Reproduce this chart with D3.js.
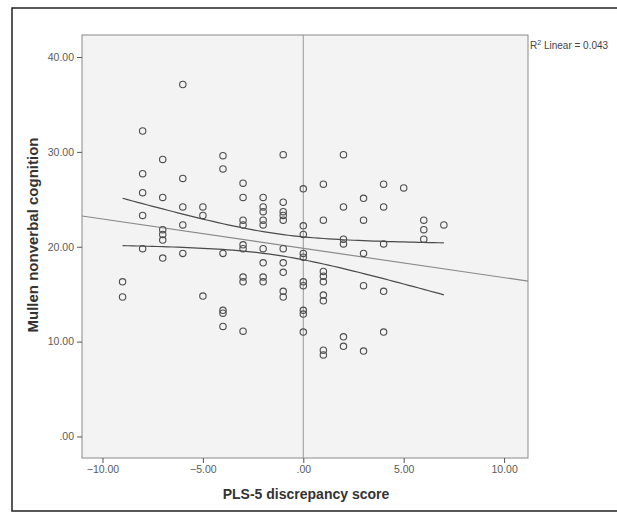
<!DOCTYPE html>
<html>
<head>
<meta charset="utf-8">
<script src="https://cdn.jsdelivr.net/npm/d3@7"></script>
<style>
  body { margin: 0; background: #fff; }
  svg { font-family: "Liberation Sans", Arial, sans-serif; }
  .tick text { fill: #5a5a5a; font-size: 10.5px; }
  .tick line { stroke: #555; }
</style>
</head>
<body>
<div id="chart"></div>
<script>
// PLS-5 discrepancy score (x) grouped by column, Mullen nonverbal cognition (y)
var xCols = [-9, -8, -7, -6, -5, -4, -3, -2, -1, 0, 1, 2, 3, 4, 5, 6, 7];
var yCols = [
    [16.3, 14.7],
    [32.2, 27.7, 25.7, 23.3, 19.8],
    [29.2, 25.2, 21.8, 21.3, 20.7, 18.8],
    [37.1, 27.2, 24.2, 22.3, 19.3],
    [24.2, 23.3, 14.8],
    [29.6, 28.2, 19.3, 13.3, 13.0, 11.6],
    [26.7, 25.2, 22.8, 22.3, 20.2, 19.8, 16.8, 16.3, 11.1],
    [25.2, 24.2, 23.7, 22.8, 22.3, 19.8, 18.3, 16.8, 16.3],
    [29.7, 24.7, 23.7, 23.3, 22.8, 19.8, 18.3, 17.3, 15.3, 14.7],
    [26.1, 22.2, 21.3, 19.3, 18.9, 16.3, 15.9, 13.3, 12.9, 11.0],
    [26.6, 22.8, 17.4, 16.9, 16.3, 14.9, 14.3, 9.1, 8.6],
    [29.7, 24.2, 20.8, 20.3, 10.5, 9.5],
    [25.1, 22.8, 19.3, 15.9, 9.0],
    [26.6, 24.2, 20.3, 15.3, 11.0],
    [26.2],
    [22.8, 21.8, 20.8],
    [22.3]
];
var xTicks = [-10, -5, 0, 5, 10];
var yTicks = [0, 10, 20, 30, 40];
var r2Label = "0.043";

var points = [];
xCols.forEach(function(x, i) {
    yCols[i].forEach(function(y) { points.push({x: x, y: y}); });
});

// linear fit + 95% mean CI
var n = points.length;
var xbar = d3.mean(points, function(d) { return d.x; });
var ybar = d3.mean(points, function(d) { return d.y; });
var sxx = d3.sum(points, function(d) { return (d.x - xbar) * (d.x - xbar); });
var sxy = d3.sum(points, function(d) { return (d.x - xbar) * (d.y - ybar); });
var slope = sxy / sxx;
var intercept = ybar - slope * xbar;
var sse = d3.sum(points, function(d) { var e = d.y - (intercept + slope * d.x); return e * e; });
var s = Math.sqrt(sse / (n - 2));
var t = 1.986;
function fit(x) { return intercept + slope * x; }
function half(x) { return t * s * Math.sqrt(1 / n + (x - xbar) * (x - xbar) / sxx); }

var width = 617, height = 522;
var plot = {left: 82, right: 528, top: 35, bottom: 458};

var svg = d3.select("#chart").append("svg")
    .attr("width", width)
    .attr("height", height);

// outer frame (open on the right, where the page is cut)
svg.append("path")
    .attr("d", "M617,8H12V511H617")
    .attr("fill", "none")
    .attr("stroke", "#222")
    .attr("stroke-width", 1.5);

var x = d3.scaleLinear()
    .domain([-11.02, 11.19])
    .range([plot.left, plot.right]);
var y = d3.scaleLinear()
    .domain([-2.27, 42.32])
    .range([plot.bottom, plot.top]);

svg.append("rect")
    .attr("x", plot.left).attr("y", plot.top)
    .attr("width", plot.right - plot.left)
    .attr("height", plot.bottom - plot.top)
    .attr("fill", "#f3f3f3")
    .attr("stroke", "#8a8a8a")
    .attr("stroke-width", 1);

function fmt(d) { return d === 0 ? ".00" : d3.format(".2f")(d); }

svg.append("g")
    .attr("transform", "translate(0," + plot.bottom + ")")
    .call(d3.axisBottom(x).tickValues(xTicks).tickFormat(fmt).tickSize(5).tickSizeOuter(0))
    .call(function(g) { g.select(".domain").remove(); });

svg.append("g")
    .attr("transform", "translate(" + plot.left + ",0)")
    .call(d3.axisLeft(y).tickValues(yTicks).tickFormat(fmt).tickSize(5).tickSizeOuter(0))
    .call(function(g) { g.select(".domain").remove(); });

// reference line at x = 0
svg.append("line")
    .attr("x1", x(0)).attr("x2", x(0))
    .attr("y1", plot.top).attr("y2", plot.bottom)
    .attr("stroke", "#9a9a9a")
    .attr("stroke-width", 1);

// fit line across the whole plot
var xd = x.domain();
svg.append("line")
    .attr("x1", x(xd[0])).attr("y1", y(fit(xd[0])))
    .attr("x2", x(xd[1])).attr("y2", y(fit(xd[1])))
    .attr("stroke", "#8a8a8a")
    .attr("stroke-width", 1.2);

// confidence curves over the data range
var xmin = d3.min(xCols), xmax = d3.max(xCols);
var xs = d3.range(xmin, xmax + 0.001, 0.25);
var line = d3.line()
    .x(function(d) { return x(d[0]); })
    .y(function(d) { return y(d[1]); });
[1, -1].forEach(function(sign) {
    svg.append("path")
        .datum(xs.map(function(v) { return [v, fit(v) + sign * half(v)]; }))
        .attr("d", line)
        .attr("fill", "none")
        .attr("stroke", "#4a4a4a")
        .attr("stroke-width", 1.2);
});

svg.selectAll(".dot")
    .data(points)
    .enter().append("circle")
    .attr("class", "dot")
    .attr("cx", function(d) { return x(d.x); })
    .attr("cy", function(d) { return y(d.y); })
    .attr("r", 3.2)
    .attr("fill", "none")
    .attr("stroke", "#4d4d4d")
    .attr("stroke-width", 1.1);

// R2 label
var r2 = svg.append("text")
    .attr("x", plot.right + 2)
    .attr("y", plot.top + 14)
    .attr("font-size", "10px")
    .attr("fill", "#444");
r2.append("tspan").text("R");
r2.append("tspan").attr("dy", -4).attr("font-size", "7px").text("2");
r2.append("tspan").attr("dy", 4).text(" Linear = " + r2Label);

svg.append("text")
    .attr("text-anchor", "middle")
    .attr("x", (plot.left + plot.right) / 2 + 1)
    .attr("y", 499)
    .attr("font-size", "14px")
    .attr("font-weight", "bold")
    .attr("fill", "#333")
    .text("PLS-5 discrepancy score");

svg.append("text")
    .attr("text-anchor", "middle")
    .attr("transform", "translate(38,235) rotate(-90)")
    .attr("font-size", "15px")
    .attr("font-weight", "bold")
    .attr("fill", "#333")
    .text("Mullen nonverbal cognition");
</script>
</body>
</html>
